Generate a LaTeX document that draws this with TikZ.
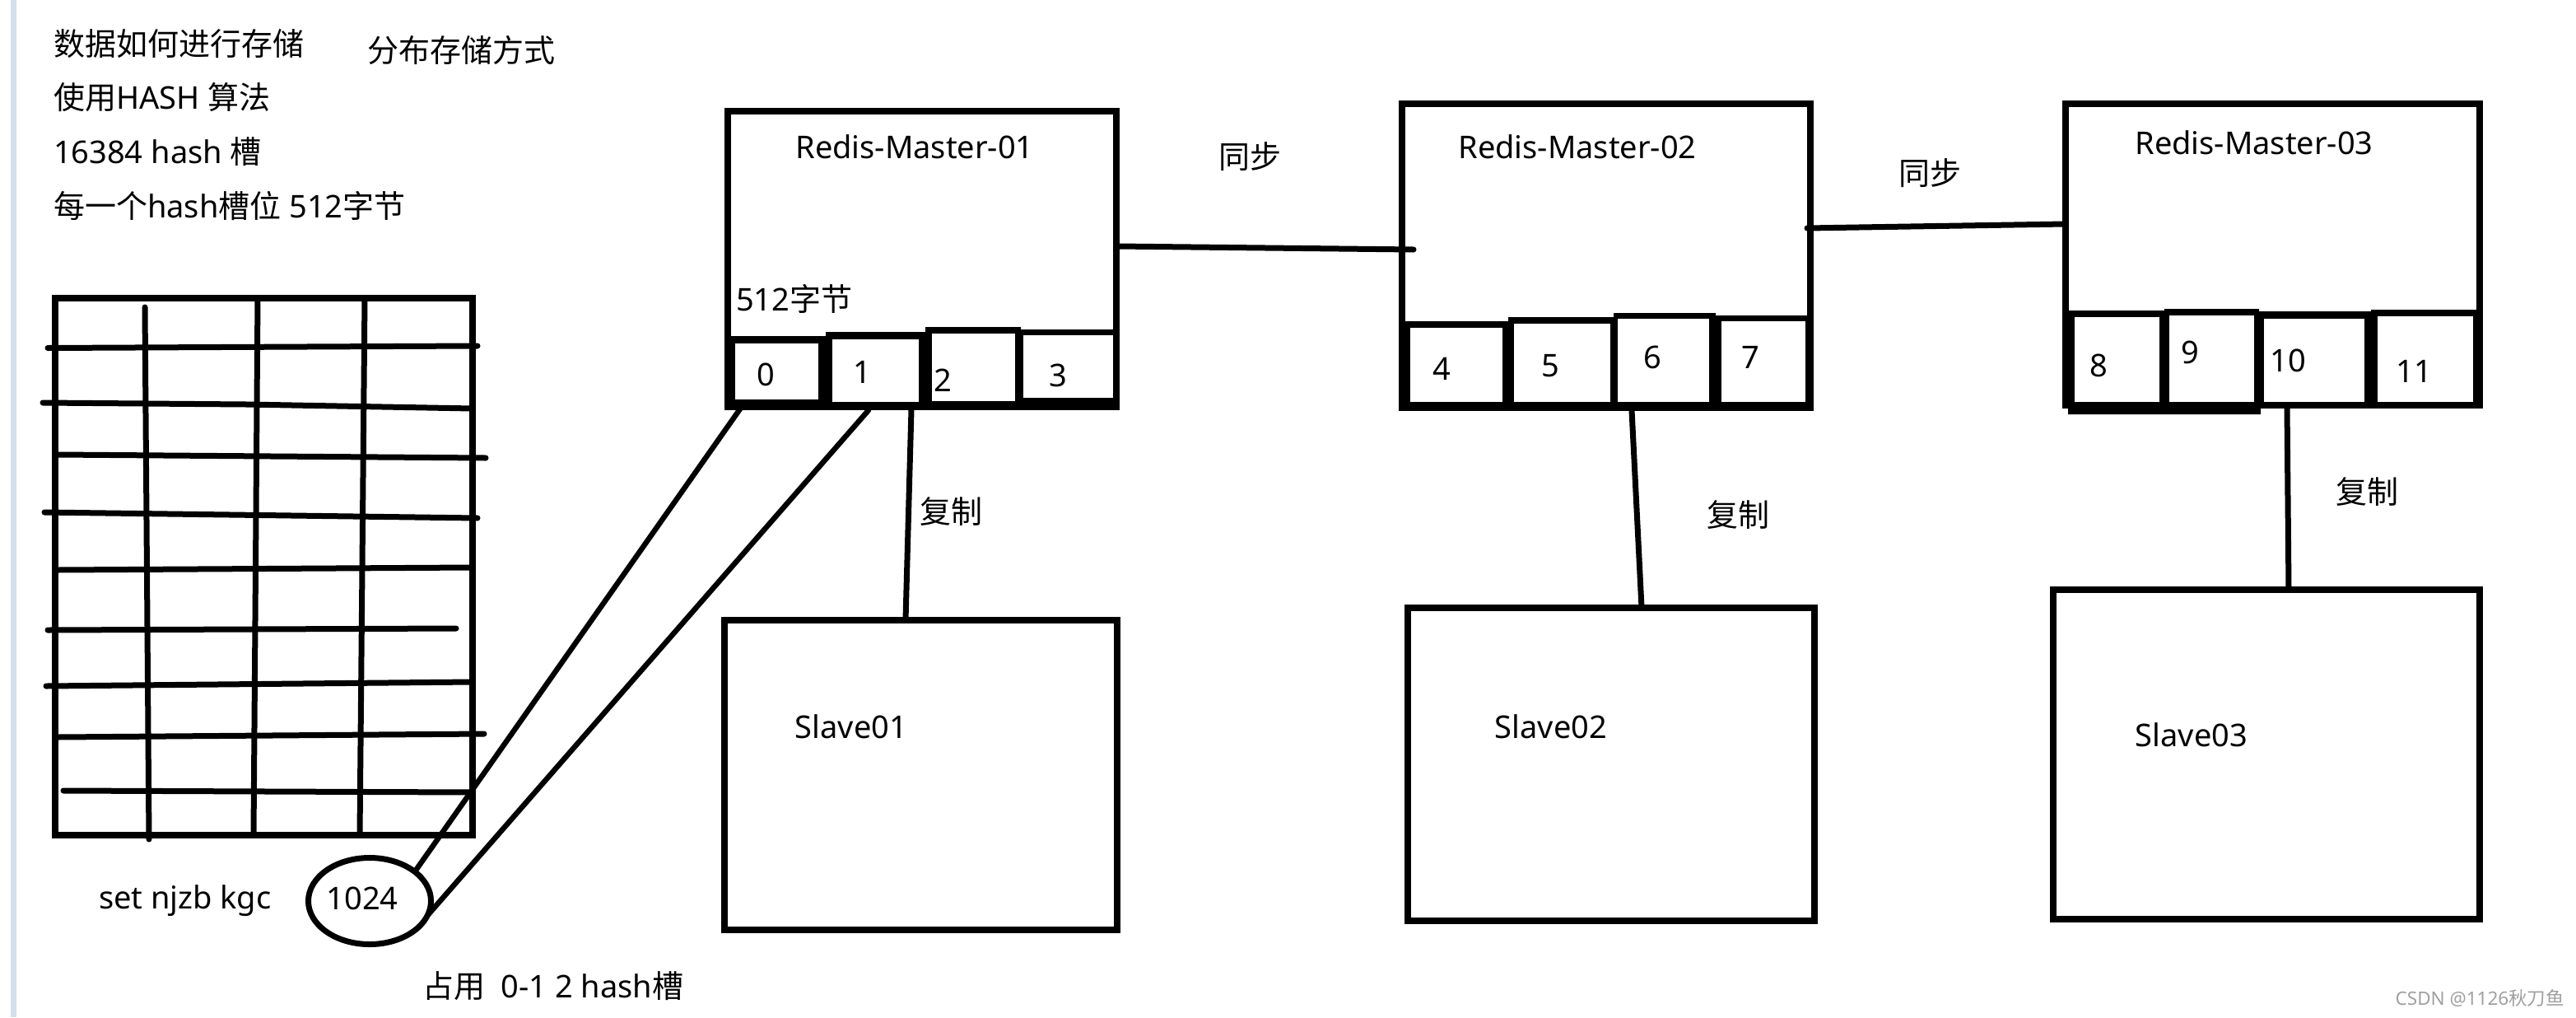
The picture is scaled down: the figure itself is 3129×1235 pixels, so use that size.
\documentclass[tikz,border=0pt]{standalone}
\usepackage{fontspec}
\setmainfont{Noto Sans}
\newfontfamily\zhfont{Noto Sans CJK SC}
\usetikzlibrary{shapes.geometric,calc}
\newcommand\zh[1]{{\zhfont #1}}
\newcommand\bigtxt{\fontsize{38}{46}\selectfont}
\newcommand\marktxt{\fontsize{22.5}{27}\selectfont}
\definecolor{stripe}{HTML}{D5DFEC}
\definecolor{wmgray}{HTML}{A0A0A0}
\begin{document}
\begin{tikzpicture}[x=1pt,y=-1pt,
  ink/.style={line width=7pt,line cap=round,line join=round},
  thinink/.style={line width=6.5pt,line cap=round},
  box/.style={draw,line width=8pt,fill=white,rectangle,inner sep=0pt,outer sep=0pt},
  slotbox/.style={fill=white,rectangle,inner sep=0pt,outer sep=0pt},
  txt/.style={inner sep=0pt,outer sep=0pt,font=\bigtxt,text=black},
]
\useasboundingbox (0,0) rectangle (3129,1235);
\fill[white] (0,0) rectangle (3129,1235);
\fill[stripe] (13,0) rectangle (20,1235);

% ---- notes
\node[txt,anchor=base west] (t1) at (65,67) {\zh{数据如何进行存储}};
\node[txt,anchor=base west] (t2) at (446,75) {\zh{分布存储方式}};
\node[txt,anchor=base west] (t3) at (65,132) {\zh{使用}HASH \zh{算法}};
\node[txt,anchor=base west] (t4) at (65,198) {16384 hash \zh{槽}};
\node[txt,anchor=base west] (t5) at (65,264) {\zh{每一个}hash\zh{槽位} 512\zh{字节}};

% ---- grid
\node[box,line width=7.5pt,minimum width=507,minimum height=652] (grid) at (320.5,688) {};
\draw[ink] (58,422.5) -- (580,420);
\draw[ink] (52,489) -- (300,491) -- (574,496);
\draw[ink] (70,552) -- (590,556);
\draw[ink] (54,622) -- (580,629);
\draw[ink] (70,692) -- (574,689);
\draw[ink] (58,765) -- (554,763);
\draw[ink] (56,833) -- (574,828);
\draw[ink] (70,895) -- (588,891);
\draw[ink] (77,960) -- (574,962);
\draw[ink] (176,373) -- (181,1019);
\draw[ink] (313,362) -- (308,1014);
\draw[ink] (443,362) -- (437,1014);

% ---- slaves
\node[box,minimum width=477,minimum height=376] (sl1) at (1118,940.5) {};
\node[box,minimum width=494,minimum height=380] (sl2) at (1956.5,927.5) {};
\node[box,minimum width=518,minimum height=400] (sl3) at (2752.5,915.5) {};
\node[txt,anchor=base] (sl1t) at (1034,896) {Slave01};
\node[txt,anchor=base] (sl2t) at (1884,896) {Slave02};
\node[txt,anchor=base] (sl3t) at (2662,906) {Slave03};

% ---- master 1
\node[box,minimum width=472,minimum height=359] (m1) at (1119.5,314) {};
\fill (880,408) -- (1003,408) -- (1003,403) -- (1124,403) -- (1124,397) -- (1240,397)
  -- (1240,400) -- (1359,400) -- (1359,497) -- (880,497) -- cycle;
\node[slotbox,minimum width=101,minimum height=68] (s0) at (943.5,451) {};
\node[slotbox,minimum width=105,minimum height=76] (s1) at (1063.5,450) {};
\node[slotbox,minimum width=101,minimum height=82] (s2) at (1182.5,446) {};
\node[slotbox,minimum width=109,minimum height=76] (s3) at (1297.5,445) {};
\node[txt,anchor=base] (l0) at (930,468) {0};
\node[txt,anchor=base] (l1) at (1047,465) {1};
\node[txt,anchor=base] (l2) at (1145,475) {2};
\node[txt,anchor=base] (l3) at (1285,469) {3};
\node[txt,anchor=base] (m1t) at (1111,192) {Redis-Master-01};
\node[txt,anchor=base west] (m1b) at (894,377) {512\zh{字节}};

% ---- master 2
\node[box,minimum width=496,minimum height=369] (m2) at (1950.5,310) {};
\fill (1699,390) -- (1832,390) -- (1832,385) -- (1960,385) -- (1960,380) -- (2084,380)
  -- (2084,383) -- (2202,383) -- (2202,498) -- (1699,498) -- cycle;
\node[slotbox,minimum width=112,minimum height=90] (s4) at (1769,443) {};
\node[slotbox,minimum width=117,minimum height=95] (s5) at (1897.5,440.5) {};
\node[slotbox,minimum width=111,minimum height=101] (s6) at (2020.5,437.5) {};
\node[slotbox,minimum width=102,minimum height=98] (s7) at (2142,439) {};
\node[txt,anchor=base] (l4) at (1751,461) {4};
\node[txt,anchor=base] (l5) at (1883,457) {5};
\node[txt,anchor=base] (l6) at (2007,447) {6};
\node[txt,anchor=base] (l7) at (2126,447) {7};
\node[txt,anchor=base] (m2t) at (1916,192) {Redis-Master-02};

% ---- master 3
\node[box,minimum width=503,minimum height=366] (m3) at (2760,308.5) {};
\fill (2505,377) -- (2629,377) -- (2629,375) -- (2744,375) -- (2744,378) -- (2880,378)
  -- (2880,376) -- (3015,376) -- (3015,495) -- (2746,495) -- (2746,503) -- (2512,503)
  -- (2512,495) -- (2505,495) -- cycle;
\node[slotbox,minimum width=103,minimum height=103] (s8) at (2571.5,436.5) {};
\node[slotbox,minimum width=103,minimum height=105] (s9) at (2686.5,435.5) {};
\node[slotbox,minimum width=122,minimum height=101] (s10) at (2811,437.5) {};
\node[slotbox,minimum width=116,minimum height=104] (s11) at (2946,436) {};
\node[txt,anchor=base] (l8) at (2549,457) {8};
\node[txt,anchor=base] (l9) at (2660,441) {9};
\node[txt,anchor=base] (l10) at (2779,451) {10};
\node[txt,anchor=base] (l11) at (2932,464) {11};
\node[txt,anchor=base] (m3t) at (2738,187) {Redis-Master-03};

% ---- sync
\draw[ink] ($(m1.east)+(2,-15)$) -- ($(m2.west)+(14.5,-7)$);
\node[txt,anchor=base] (sy1) at (1518,204) {\zh{同步}};
\draw[ink] ($(m2.east)+(-3.5,-33)$) -- ($(m3.west)+(0,-36.5)$);
\node[txt,anchor=base] (sy2) at (2344,224) {\zh{同步}};

% ---- replication
\draw[ink] ($(s1.south east)+(-9,9)$) -- ($(sl1.north)+(-18,0)$);
\node[txt,anchor=base] (rp1) at (1155,635) {\zh{复制}};
\draw[ink] ($(s6.south)+(-38.5,10)$) -- ($(sl2.north)+(37.5,0)$);
\node[txt,anchor=base] (rp2) at (2111,639) {\zh{复制}};
\draw[ink] ($(s10.south)+(-33,7)$) -- ($(sl3.north)+(27.5,0)$);
\node[txt,anchor=base] (rp3) at (2875,611) {\zh{复制}};

% ---- key
\node[draw,ellipse,line width=7pt,minimum width=149,minimum height=105,inner sep=0pt,outer sep=0pt] (key) at (449,1094) {};
\node[txt,anchor=base] (keyt) at (440,1104) {1024};
\node[txt,anchor=base west] (cmd) at (120,1103) {set njzb kgc};
\node[txt,anchor=base west] (occ) at (513,1211) {\zh{占用}\ \ 0-1 2 hash\zh{槽}};
\draw[thinink] ($(s0.south west)+(7,10)$) -- (key.33);
\draw[thinink] ($(s1.south)+(-8.5,10)$) -- (key.-14);

% ---- watermark
\node[inner sep=0pt,font=\marktxt,text=wmgray,anchor=base east] (wm) at (3115,1220) {CSDN @1126\zh{秋刀鱼}};
\end{tikzpicture}
\end{document}
